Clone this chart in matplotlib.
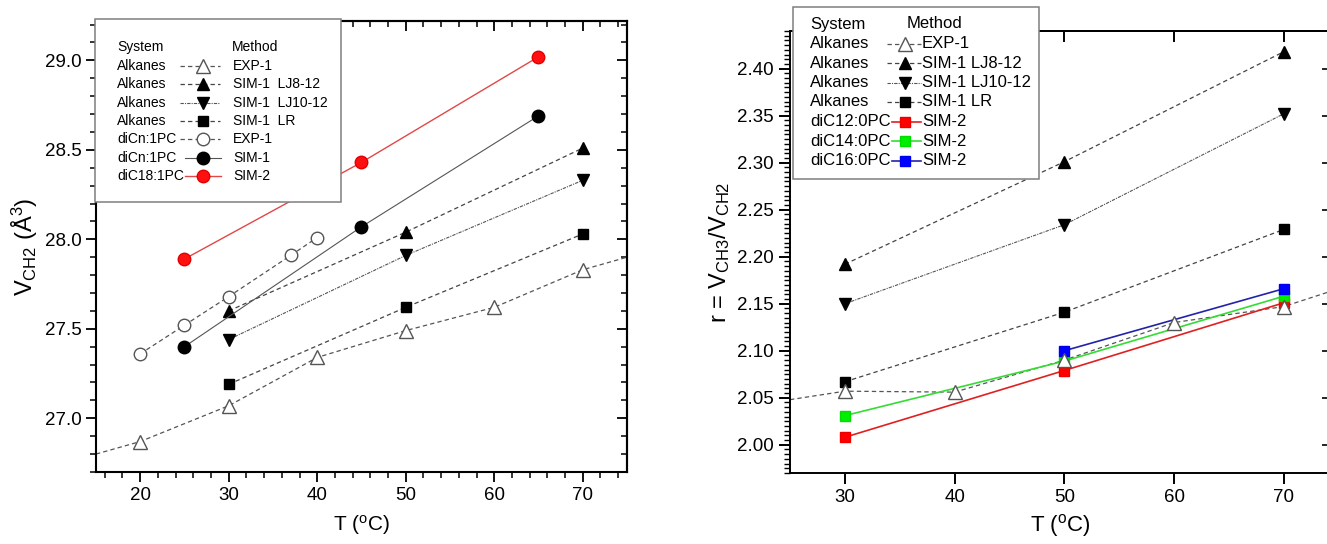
import matplotlib
matplotlib.use("Agg")
import matplotlib.pyplot as plt
from matplotlib.lines import Line2D
from matplotlib.patches import Rectangle
from matplotlib.ticker import MultipleLocator

plt.rcParams['font.family'] = ['Liberation Sans', 'DejaVu Sans']
plt.rcParams['mathtext.fontset'] = 'custom'
plt.rcParams['mathtext.rm'] = 'Liberation Sans'
plt.rcParams['mathtext.it'] = 'Liberation Sans:italic'

# ---- left panel: V_CH2 vs T
alk_exp_T = [20, 30, 40, 50, 60, 70]
alk_exp_V = [26.87, 27.07, 27.34, 27.49, 27.62, 27.83]
alk_exp_line_T = [15, 20, 30, 40, 50, 60, 70, 75]
alk_exp_line_V = [26.80, 26.87, 27.07, 27.34, 27.49, 27.62, 27.83, 27.90]
sim1_T = [30, 50, 70]
lj812_V = [27.60, 28.04, 28.51]
lj1012_V = [27.44, 27.91, 28.33]
lr_V = [27.19, 27.62, 28.03]
dicn_exp_T = [20, 25, 30, 37, 40]
dicn_exp_V = [27.36, 27.52, 27.68, 27.91, 28.01]
dicn_sim_T = [25, 45, 65]
dicn_sim_V = [27.40, 28.07, 28.69]
dic18_V = [27.89, 28.43, 29.02]

# ---- right panel: r = V_CH3/V_CH2 vs T
r_exp_T = [30, 40, 50, 60, 70]
r_exp = [2.057, 2.056, 2.090, 2.130, 2.147]
r_exp_line_T = [25, 30, 40, 50, 60, 70, 75]
r_exp_line = [2.048, 2.057, 2.056, 2.090, 2.130, 2.147, 2.166]
r_T = [30, 50, 70]
r_lj812 = [2.192, 2.301, 2.418]
r_lj1012 = [2.150, 2.234, 2.352]
r_lr = [2.067, 2.141, 2.229]
r_c12 = [2.008, 2.079, 2.151]
r_c14 = [2.031, 2.089, 2.158]
r_c16_T = [50, 70]
r_c16 = [2.100, 2.166]

left_sys = ['Alkanes', 'Alkanes', 'Alkanes', 'Alkanes', 'diCn:1PC', 'diCn:1PC', 'diC18:1PC']
left_method = ['EXP-1', 'SIM-1  LJ8-12', 'SIM-1  LJ10-12', 'SIM-1  LR', 'EXP-1', 'SIM-1', 'SIM-2']
right_sys = ['Alkanes', 'Alkanes', 'Alkanes', 'Alkanes', 'diC12:0PC', 'diC14:0PC', 'diC16:0PC']
right_method = ['EXP-1', 'SIM-1 LJ8-12', 'SIM-1 LJ10-12', 'SIM-1 LR', 'SIM-2', 'SIM-2', 'SIM-2']

# styles
dash = (0, (3.5, 2.5))
dashdot = (0, (3, 1, 1, 1))
grey = '#444444'
ln_exp = dict(ls=dash, lw=0.9, color='#555555')
ln_812 = dict(ls=dash, lw=0.9, color=grey)
ln_1012 = dict(ls=dashdot, lw=0.8, color='#555555')
ln_lr = dict(ls=dash, lw=0.9, color=grey)
ln_dexp = dict(ls=dash, lw=0.9, color='#555555')
ln_dsim = dict(ls='-', lw=0.8, color='#555555')
ln_red = dict(ls='-', lw=1.0, color='#e04848')
ln_c12 = dict(ls='-', lw=1.2, color='#e02020')
ln_c14 = dict(ls='-', lw=1.2, color='#33dd33')
ln_c16 = dict(ls='-', lw=1.2, color='#2222aa')

mk_exp = dict(marker='^', ms=10, mfc='white', mec='#555555', mew=1.0)
mk_812 = dict(marker='^', ms=9, mfc='black', mec='black')
mk_1012 = dict(marker='v', ms=9, mfc='black', mec='black')
mk_lr = dict(marker='s', ms=7, mfc='black', mec='black')
mk_dexp = dict(marker='o', ms=9, mfc='white', mec='#555555', mew=1.0)
mk_dsim = dict(marker='o', ms=9, mfc='black', mec='black')
mk_red = dict(marker='o', ms=9, mfc='#ff1010', mec='#e00000')
mk_c12 = dict(marker='s', ms=7, mfc='#ff0000', mec='#ee0000')
mk_c14 = dict(marker='s', ms=7, mfc='#00ee00', mec='#00dd00')
mk_c16 = dict(marker='s', ms=7, mfc='#0000ff', mec='#0000ee')

fig = plt.figure(figsize=(13.27, 5.44), dpi=100)

# ================= left panel
ax1 = fig.add_axes([0.0723, 0.1324, 0.4002, 0.829])
ax1.plot(alk_exp_line_T, alk_exp_line_V, **ln_exp, zorder=2)
ax1.plot(alk_exp_T, alk_exp_V, ls='none', **mk_exp, zorder=4)
ax1.plot(sim1_T, lj812_V, **ln_812, **mk_812, zorder=3)
ax1.plot(sim1_T, lj1012_V, **ln_1012, **mk_1012, zorder=3)
ax1.plot(sim1_T, lr_V, **ln_lr, **mk_lr, zorder=3)
ax1.plot(dicn_exp_T, dicn_exp_V, **ln_dexp, **mk_dexp, zorder=3)
ax1.plot(dicn_sim_T, dicn_sim_V, **ln_dsim, **mk_dsim, zorder=3)
ax1.plot(dicn_sim_T, dic18_V, **ln_red, **mk_red, zorder=3)

ax1.set_xlim(15, 75)
ax1.set_ylim(26.7, 29.22)
ax1.xaxis.set_major_locator(MultipleLocator(10))
ax1.xaxis.set_minor_locator(MultipleLocator(2))
ax1.yaxis.set_major_locator(MultipleLocator(0.5))
ax1.yaxis.set_minor_locator(MultipleLocator(0.1))
ax1.yaxis.set_major_formatter(matplotlib.ticker.FormatStrFormatter('%.1f'))
ax1.tick_params(which='major', direction='out', length=7, width=1.3, labelsize=13.5)
ax1.tick_params(which='minor', direction='out', length=4, width=1.1)
sx = ax1.secondary_xaxis('top')
sx.xaxis.set_major_locator(MultipleLocator(10))
sx.xaxis.set_minor_locator(MultipleLocator(2))
sx.tick_params(which='major', direction='in', length=7, width=1.3, labeltop=False)
sx.tick_params(which='minor', direction='in', length=4, width=1.1)
sy = ax1.secondary_yaxis('right')
sy.yaxis.set_major_locator(MultipleLocator(0.5))
sy.yaxis.set_minor_locator(MultipleLocator(0.1))
sy.tick_params(which='major', direction='in', length=7, width=1.3, labelright=False)
sy.tick_params(which='minor', direction='in', length=4, width=1.1)
for a in (ax1, sx, sy):
    for s in a.spines.values():
        s.set_linewidth(1.5)
ax1.set_xlabel(r'T ($^\mathrm{o}$C)', fontsize=15, labelpad=7)
ax1.set_ylabel(r'V$_\mathrm{CH2}$ (Å$^\mathrm{3}$)', fontsize=17, labelpad=3)

# ================= right panel
ax2 = fig.add_axes([0.5953, 0.1305, 0.4069, 0.8125])
ax2.plot(r_exp_line_T, r_exp_line, **ln_exp, zorder=2)
ax2.plot(r_T, r_lj812, **ln_812, **mk_812, zorder=3)
ax2.plot(r_T, r_lj1012, **ln_1012, **mk_1012, zorder=3)
ax2.plot(r_T, r_lr, **ln_lr, **mk_lr, zorder=3)
ax2.plot(r_T, r_c12, **ln_c12, **mk_c12, zorder=3)
ax2.plot(r_T, r_c14, **ln_c14, **mk_c14, zorder=3)
ax2.plot(r_c16_T, r_c16, **ln_c16, **mk_c16, zorder=3)
ax2.plot(r_exp_T, r_exp, ls='none', **mk_exp, zorder=4)

ax2.set_xlim(25, 74.2)
ax2.set_ylim(1.97, 2.44)
ax2.xaxis.set_major_locator(MultipleLocator(10))
ax2.yaxis.set_major_locator(MultipleLocator(0.05))
ax2.yaxis.set_minor_locator(MultipleLocator(0.005))
ax2.yaxis.set_major_formatter(matplotlib.ticker.FormatStrFormatter('%.2f'))
ax2.tick_params(which='major', direction='out', length=8, width=1.4, labelsize=13.5)
ax2.tick_params(which='minor', direction='out', length=4, width=1.0)
sx2 = ax2.secondary_xaxis('top')
sx2.xaxis.set_major_locator(MultipleLocator(10))
sx2.tick_params(which='major', direction='in', length=8, width=1.4, labeltop=False)
sy2 = ax2.secondary_yaxis('right')
sy2.yaxis.set_major_locator(MultipleLocator(0.05))
sy2.tick_params(which='major', direction='in', length=6, width=1.2, labelright=False)
for a in (ax2, sx2, sy2):
    for s in a.spines.values():
        s.set_linewidth(1.4)
ax2.set_xlabel(r'T ($^\mathrm{o}$C)', fontsize=16, labelpad=4)
ax2.set_ylabel(r'r = V$_\mathrm{CH3}$/V$_\mathrm{CH2}$', fontsize=17, labelpad=4)

# ================= legends (drawn in image pixel coordinates on an overlay)
ov = fig.add_axes([0, 0, 1, 1], zorder=20)
ov.set_xlim(0, 1327)
ov.set_ylim(544, 0)
ov.axis('off')
ov.patch.set_visible(False)

left_styles = [(ln_exp, mk_exp), (ln_812, mk_812), (ln_1012, mk_1012), (ln_lr, mk_lr),
               (ln_dexp, mk_dexp), (ln_dsim, mk_dsim), (ln_red, mk_red)]
right_styles = [(ln_exp, mk_exp), (ln_812, mk_812), (ln_1012, mk_1012), (ln_lr, mk_lr),
                (ln_c12, mk_c12), (ln_c14, mk_c14), (ln_c16, mk_c16)]


def draw_legend(box, head_y, row0, step, x_sys, x_meth_head, seg, x_mk, x_meth,
                systems, methods, styles, fs, seg_solid=None):
    x0, y0, x1, y1 = box
    ov.add_patch(Rectangle((x0, y0), x1 - x0, y1 - y0, facecolor='white',
                           edgecolor='#7f7f7f', lw=1.1, zorder=1))
    ov.text(x_sys, head_y, 'System', fontsize=fs, va='center', ha='left', zorder=3)
    ov.text(x_meth_head, head_y, 'Method', fontsize=fs, va='center', ha='left', zorder=3)
    for i, (s, m, (ln, mk)) in enumerate(zip(systems, methods, styles)):
        y = row0 + i * step
        ov.text(x_sys, y, s, fontsize=fs, va='center', ha='left', zorder=3)
        a, b = seg
        if seg_solid is not None and ln['ls'] == '-':
            a, b = seg_solid
        ov.add_line(Line2D([a, b], [y, y], **ln, zorder=2))
        ov.add_line(Line2D([x_mk], [y], ls='none', **mk, zorder=3))
        ov.text(x_meth, y, m, fontsize=fs, va='center', ha='left', zorder=3)


draw_legend((95, 19, 341, 202), 47, 66, 18.3, 117, 232, (180, 220), 203, 233,
            left_sys, left_method, left_styles, 10, seg_solid=(185, 221))
draw_legend((793, 7, 1039, 179), 24, 43.5, 19.5, 810, 907, (887, 921), 905, 922,
            right_sys, right_method, right_styles, 12, seg_solid=(892, 921))

fig.savefig('out.png', dpi=100)
